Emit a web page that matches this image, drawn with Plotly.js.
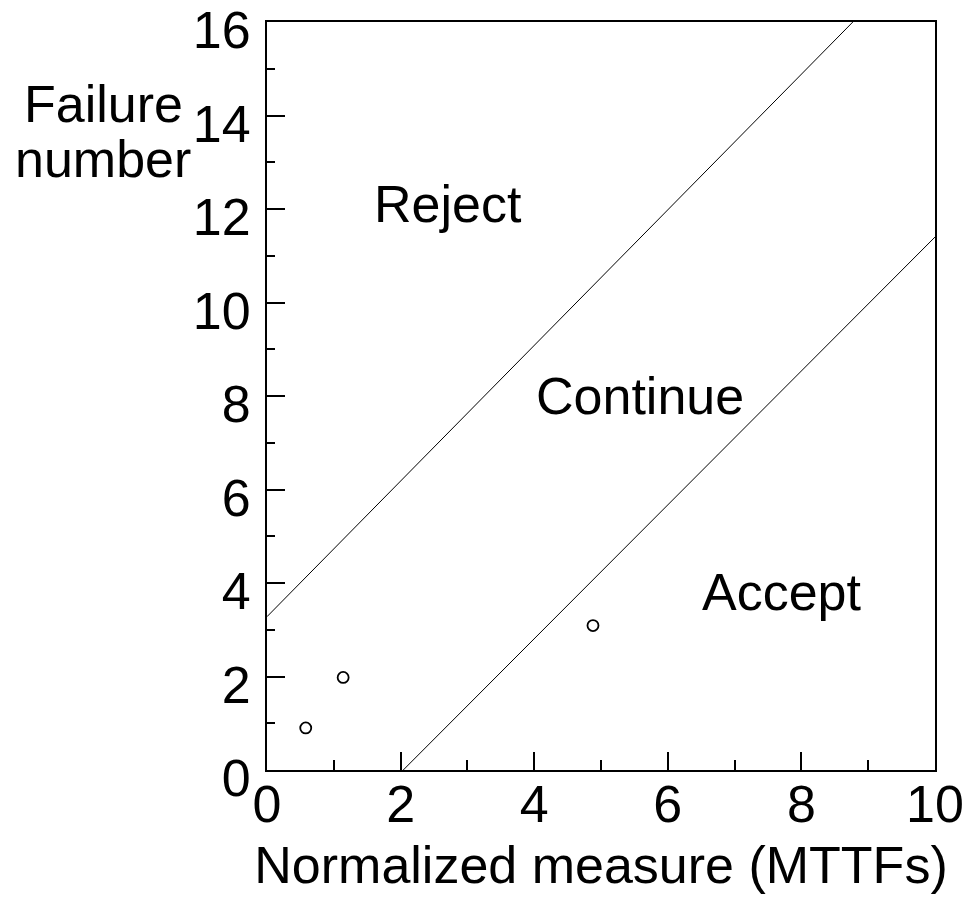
<!DOCTYPE html>
<html>
<head>
<meta charset="utf-8">
<script src="https://cdn.plot.ly/plotly-3.0.1.min.js"></script>
<style>html,body{margin:0;padding:0;background:#fff;}#chart{width:968px;height:903px;}</style>
</head>
<body>
<div id="chart"></div>
<script>
// Data
var rejectLineX = [0, 8.77];
var rejectLineY = [3.28, 16];
var acceptLineX = [2.04, 10];
var acceptLineY = [0, 11.4];
var pointsX = [0.58, 1.14, 4.88];
var pointsY = [0.9, 1.98, 3.09];
var regionLabels = ["Reject", "Continue", "Accept"];
var regionX = [2.71, 5.58, 7.71];
var regionY = [12.1, 8.0, 3.8];
var xTickVals = [0, 2, 4, 6, 8, 10];
var yTickVals = [0, 2, 4, 6, 8, 10, 12, 14, 16];

var FONT = "Liberation Sans, Arial, sans-serif";
var FS = 52;

var traces = [
  {x: rejectLineX, y: rejectLineY, mode: "lines", line: {color: "#000", width: 1}, hoverinfo: "skip"},
  {x: acceptLineX, y: acceptLineY, mode: "lines", line: {color: "#000", width: 1}, hoverinfo: "skip"},
  {x: pointsX, y: pointsY, mode: "markers",
   marker: {symbol: "circle-open", size: 11, color: "#000", line: {width: 1.8, color: "#000"}}}
];

var annotations = regionLabels.map(function (t, i) {
  return {x: regionX[i], y: regionY[i], xref: "x", yref: "y", text: t, showarrow: false,
          font: {family: FONT, size: FS, color: "#000"}, xanchor: "center", yanchor: "middle"};
});
annotations.push({x: -0.245, y: 0.89, xref: "paper", yref: "paper", text: "Failure", showarrow: false,
  font: {family: FONT, size: FS, color: "#000"}, xanchor: "center", yanchor: "middle"});
annotations.push({x: -0.245, y: 0.817, xref: "paper", yref: "paper", text: "number", showarrow: false,
  font: {family: FONT, size: FS, color: "#000"}, xanchor: "center", yanchor: "middle"});

var layout = {
  width: 968, height: 903,
  margin: {l: 267, r: 33, t: 22, b: 133},
  paper_bgcolor: "#fff", plot_bgcolor: "#fff",
  showlegend: false,
  font: {family: FONT, size: FS, color: "#000"},
  xaxis: {
    range: [0, 10.0001], tickvals: xTickVals, ticktext: xTickVals.map(String),
    ticks: "inside", ticklen: 18, tickwidth: 2, tickcolor: "#000",
    minor: {tickvals: [1, 3, 5, 7, 9], ticks: "inside", ticklen: 10, tickwidth: 2, tickcolor: "#000"},
    showgrid: false, zeroline: false,
    showline: true, linecolor: "#000", linewidth: 2, mirror: true,
    tickfont: {family: FONT, size: FS, color: "#000"},
    ticklabelstandoff: -12, ticklabeloverflow: "allow",
    title: {text: "Normalized measure (MTTFs)", font: {family: FONT, size: FS, color: "#000"}, standoff: 14}
  },
  yaxis: {
    range: [0, 16.0001], tickvals: yTickVals, ticktext: yTickVals.map(String),
    ticks: "inside", ticklen: 18, tickwidth: 2, tickcolor: "#000",
    minor: {tickvals: [1, 3, 5, 7, 9, 11, 13, 15], ticks: "inside", ticklen: 8, tickwidth: 2, tickcolor: "#000"},
    showgrid: false, zeroline: false,
    showline: true, linecolor: "#000", linewidth: 2, mirror: true,
    tickfont: {family: FONT, size: FS, color: "#000"},
    ticklabelstandoff: 4, ticklabelshift: 8, ticklabeloverflow: "allow"
  },
  annotations: annotations
};

Plotly.newPlot("chart", traces, layout, {displayModeBar: false, staticPlot: true});
</script>
</body>
</html>
